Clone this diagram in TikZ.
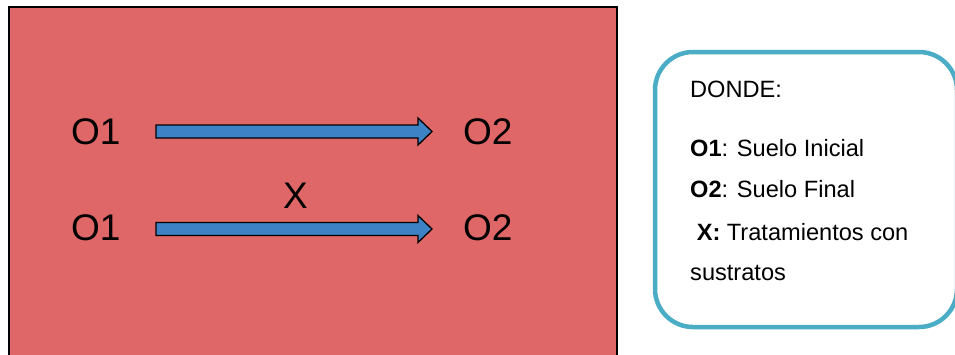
\documentclass[tikz,border=0pt]{standalone}
\usepackage{fontspec}
\setmainfont{Liberation Sans}
\definecolor{panelred}{RGB}{223,103,103}
\definecolor{arrowblue}{RGB}{60,130,196}
\definecolor{legendblue}{RGB}{75,172,198}
\begin{document}
\begin{tikzpicture}[x=1pt,y=-1pt,
  bigtext/.style={font=\fontsize{37}{44}\selectfont, inner sep=0pt},
  legtext/.style={font=\fontsize{23.6}{28}\selectfont, inner sep=0pt, anchor=base west},
  arrowbody/.style={draw=black, line width=1.3pt, fill=arrowblue, line join=miter}]
\useasboundingbox (0,0) rectangle (955,354);

% red panel (runs past the lower edge)
\fill[panelred] (9,7) rectangle (617,372);
\draw[line width=2pt] (9,372) -- (9,7) -- (617,7) -- (617,372);

% observations and treatment
\node[bigtext, anchor=base west] (o1a) at (71,144) {O1};
\node[bigtext, anchor=base west] (o2a) at (463,144) {O2};
\node[bigtext, anchor=base west] (o1b) at (71,240) {O1};
\node[bigtext, anchor=base west] (o2b) at (463,240) {O2};
\node[bigtext, anchor=base] (x) at (295.5,208) {X};

% block arrows: tail and tip points
\coordinate (aS) at (156,131.5);
\coordinate (aE) at (432,131.5);
\coordinate (bS) at (156,229);
\coordinate (bE) at (432,229);
\draw[arrowbody] (aS) ++(0,-6.5) -- ++(262,0) -- ++(0,-7) -- (aE)
  -- ++(-14,13.5) -- ++(0,-7) -- ++(-262,0) -- cycle;
\draw[arrowbody] (bS) ++(0,-6.5) -- ++(262,0) -- ++(0,-7) -- (bE)
  -- ++(-14,13.5) -- ++(0,-7) -- ++(-262,0) -- cycle;

% legend box
\draw[legendblue, line width=4.5pt, rounded corners=38pt, fill=white]
  (655,52) rectangle (957,327);
\node[legtext] (donde) at (690,97) {DONDE:};
\node[legtext] (l1) at (690,156) {\textbf{O1}: Suelo Inicial};
\node[legtext] (l2) at (690,197) {\textbf{O2}: Suelo Final};
\node[legtext] (l3) at (690,240) {\ \textbf{X:} Tratamientos con};
\node[legtext] (l4) at (690,280) {sustratos};
\end{tikzpicture}
\end{document}
